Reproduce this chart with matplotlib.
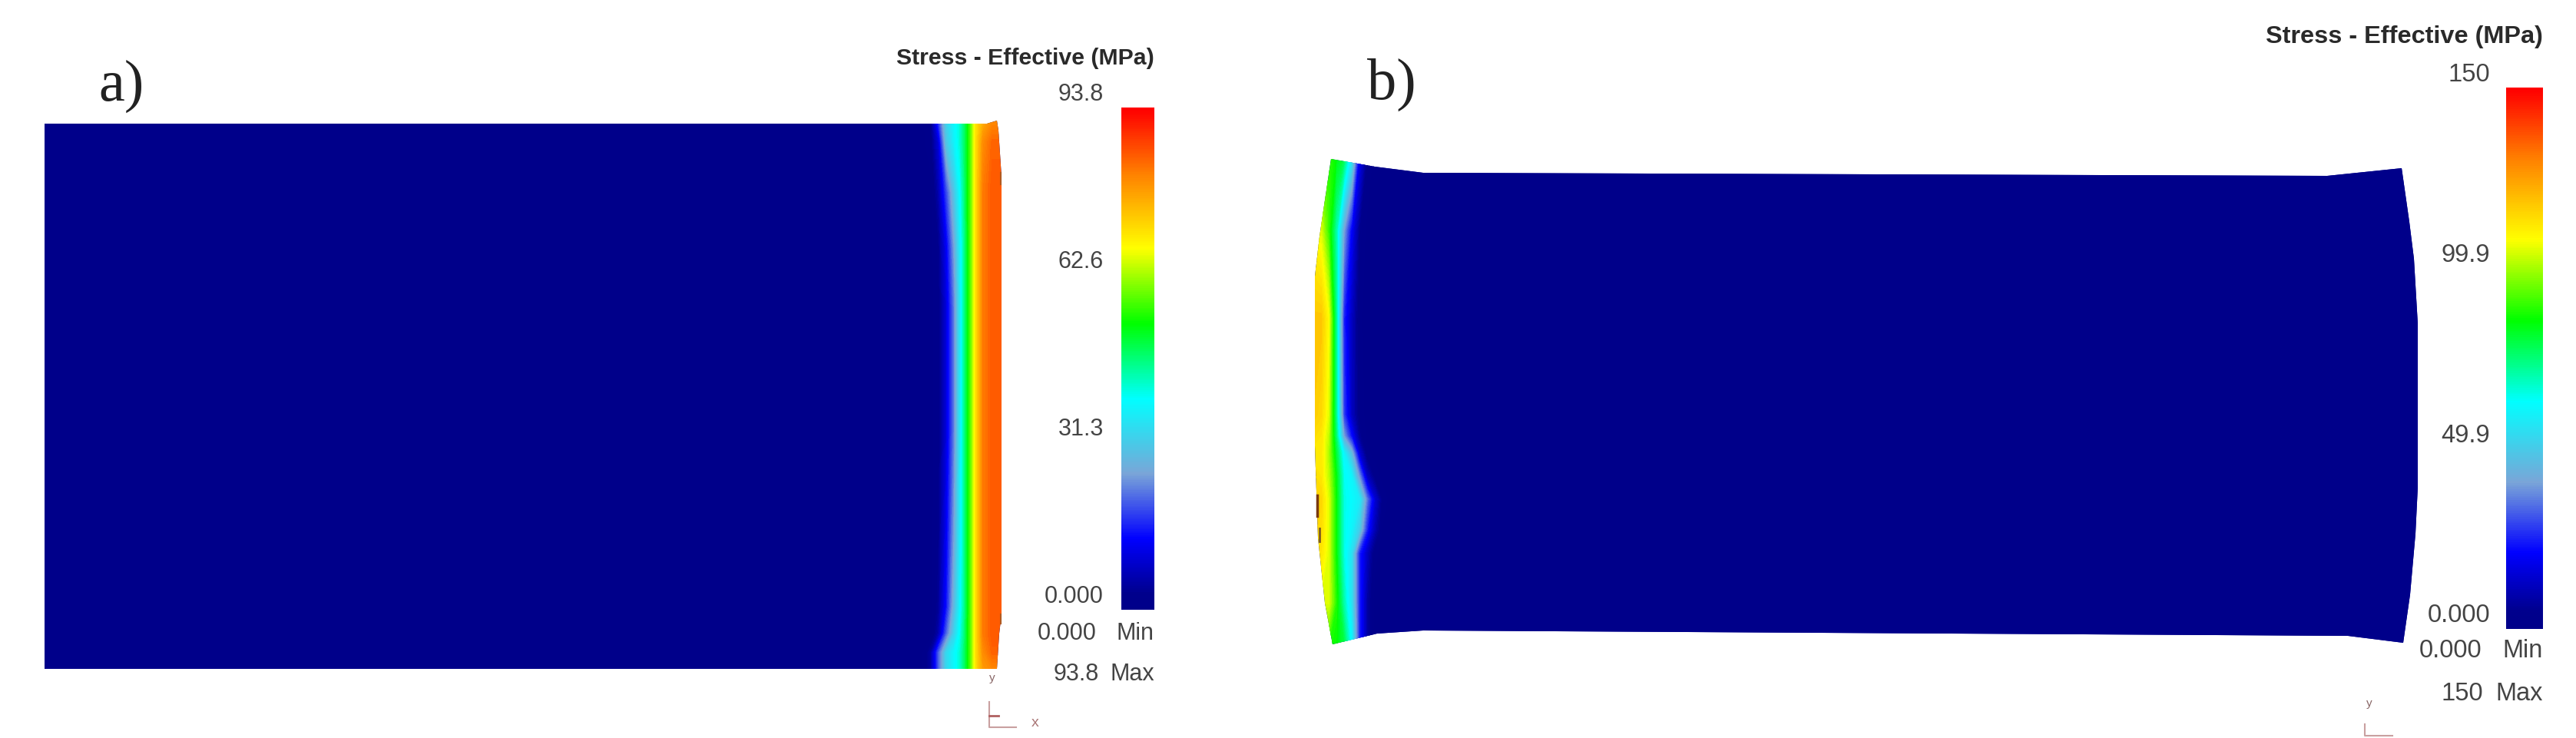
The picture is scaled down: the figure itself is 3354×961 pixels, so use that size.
import numpy as np
import matplotlib
matplotlib.use('Agg')
from matplotlib import pyplot as plt
from matplotlib.cm import ScalarMappable
from matplotlib.colors import LinearSegmentedColormap, Normalize
from matplotlib.patches import Polygon

plt.rcParams['font.family'] = ['Liberation Sans', 'DejaVu Sans']

# Effective stress (MPa) across plate a, one row per height
a_x = [58, 1200, 1212, 1222, 1232, 1242, 1250, 1256, 1262, 1270, 1280, 1292, 1306]
a_y = [155, 185, 250, 320, 400, 560, 700, 790, 825, 850, 875]
a_stress = [
    [0, 0, 3, 18, 32, 38, 42, 48, 56, 70, 76, 80, 80],
    [0, 0, 2, 10, 30, 37, 42, 48, 56, 70, 80, 84, 84],
    [0, 0, 0, 6, 18, 30, 39, 47, 56, 70, 82, 85, 85],
    [0, 0, 0, 3, 12, 25, 37, 46, 56, 70, 82, 85, 85],
    [0, 0, 0, 2, 10, 22, 36, 46, 56, 70, 82, 85, 85],
    [0, 0, 0, 2, 10, 22, 36, 46, 56, 70, 82, 85, 85],
    [0, 0, 0, 3, 12, 25, 37, 46, 56, 70, 82, 85, 85],
    [0, 0, 0, 4, 14, 28, 38, 46, 56, 70, 82, 85, 85],
    [0, 0, 0, 6, 20, 32, 40, 47, 56, 70, 82, 85, 85],
    [0, 0, 5, 20, 33, 38, 42, 48, 56, 70, 80, 84, 84],
    [0, 0, 5, 20, 33, 38, 42, 48, 56, 70, 78, 80, 80],
]
a_edge_x = [58, 1285, 1298, 1300, 1304, 1304, 1301, 1298, 58]
a_edge_y = [161, 161, 157, 170, 230, 800, 825, 871, 871]

# Effective stress (MPa) across plate b, left end only, the rest is zero
b_x = [1705, 1720, 1730, 1740, 1750, 1760, 1770, 1780, 1790, 1800, 1810, 3155]
b_y = [200, 300, 415, 540, 568, 590, 620, 650, 690, 720, 785, 845]
b_stress = [
    [95, 95, 90, 85, 80, 58, 20, 5, 0, 0, 0, 0],
    [110, 105, 90, 70, 40, 20, 5, 0, 0, 0, 0, 0],
    [118, 118, 108, 72, 25, 12, 2, 0, 0, 0, 0, 0],
    [118, 115, 105, 72, 28, 12, 3, 0, 0, 0, 0, 0],
    [115, 112, 102, 75, 40, 22, 6, 0, 0, 0, 0, 0],
    [112, 112, 100, 80, 60, 45, 15, 2, 0, 0, 0, 0],
    [115, 112, 102, 84, 64, 60, 38, 12, 3, 0, 0, 0],
    [118, 115, 105, 85, 65, 62, 58, 35, 15, 3, 0, 0],
    [116, 114, 105, 85, 65, 60, 50, 25, 10, 1, 0, 0],
    [112, 112, 105, 85, 65, 55, 25, 12, 2, 0, 0, 0],
    [105, 105, 105, 88, 70, 55, 25, 8, 0, 0, 0, 0],
    [90, 90, 88, 85, 80, 62, 25, 8, 0, 0, 0, 0],
]
b_edge_x = [1733, 1790, 1853, 3030, 3127, 3137, 3143, 3148, 3148, 3145, 3138, 3129,
            3057, 1853, 1793, 1735, 1725, 1716, 1712, 1712, 1712, 1718]
b_edge_y = [207, 217, 225, 229, 219, 289, 337, 422, 634, 695, 774, 837,
            828, 821, 825, 839, 785, 700, 580, 468, 360, 308]

a_ticks = [93.8, 62.6, 31.3, 0.0]
a_tick_labels = ['93.8', '62.6', '31.3', '0.000']
b_ticks = [150, 99.9, 49.9, 0.0]
b_tick_labels = ['150', '99.9', '49.9', '0.000']

# FEM legend colours, navy at the bottom and red at the top
stops = [0.0, 0.03, 0.14, 0.27, 0.42, 0.57, 0.72, 0.87, 0.98, 1.0]
colours = ['#00008a', '#00008c', '#0000ff', '#7aa5d8', '#00ffff', '#00ff00',
           '#ffff00', '#ff8000', '#ff1000', '#ff0000']
stress_cmap = LinearSegmentedColormap.from_list('stress', list(zip(stops, colours)))

W, H = 3355, 961
fig = plt.figure(figsize=(W / 100, H / 100), dpi=100)
ax = fig.add_axes([0, 0, 1, 1])
ax.set_xlim(0, W)
ax.set_ylim(H, 0)
ax.axis('off')


def draw_plate(xs, ys, stress, edge_x, edge_y, vmax):
    edge = Polygon(np.column_stack([edge_x, edge_y]), closed=True, fc='#00008a', ec='none')
    ax.add_patch(edge)
    field = ax.contourf(xs, ys, stress, levels=np.linspace(0, vmax, 120), cmap=stress_cmap,
                        vmin=0, vmax=vmax, extend='both', antialiased=False)
    field.set_clip_path(edge)


def draw_legend(bar_left, bar_top, bar_right, bar_bottom, ticks, labels, vmax, tick_right,
                title_size, text_size, title_y, min_right, min_y, max_label, max_right, max_y):
    cax = fig.add_axes([bar_left / W, 1 - bar_bottom / H, (bar_right - bar_left) / W,
                        (bar_bottom - bar_top) / H])
    cbar = fig.colorbar(ScalarMappable(Normalize(0, vmax), stress_cmap), cax=cax, ticks=[])
    cbar.outline.set_visible(False)
    ax.text(bar_right, title_y, 'Stress - Effective (MPa)', ha='right', va='center',
            fontsize=title_size, fontweight='bold', color='#2a2a2a')
    for value, label in zip(ticks, labels):
        y = bar_bottom - value / vmax * (bar_bottom - bar_top) - 17
        ax.text(tick_right, y, label, ha='right', va='center', fontsize=text_size, color='#444444')
    ax.text(min_right, min_y, '0.000', ha='right', va='center', fontsize=text_size, color='#444444')
    ax.text(bar_right, min_y, 'Min', ha='right', va='center', fontsize=text_size, color='#444444')
    ax.text(max_right, max_y, max_label, ha='right', va='center', fontsize=text_size, color='#444444')
    ax.text(bar_right, max_y, 'Max', ha='right', va='center', fontsize=text_size, color='#444444')


draw_plate(a_x, a_y, a_stress, a_edge_x, a_edge_y, 93.8)
draw_plate(b_x, b_y, b_stress, b_edge_x, b_edge_y, 150)

draw_legend(1460, 140, 1503, 794, a_ticks, a_tick_labels, 93.8, 1437,
            21.8, 22, 76, 1428, 825, '93.8', 1431, 878)
draw_legend(3263, 114, 3311, 819, b_ticks, b_tick_labels, 150, 3242,
            23.4, 23.5, 48, 3231, 848, '150', 3233, 904)

# panel letters
ax.text(128, 112, 'a)', family='Liberation Serif', fontsize=55, ha='left', va='center', color='#222222')
ax.text(1780, 110, 'b)', family='Liberation Serif', fontsize=55, ha='left', va='center', color='#222222')

# dark specks on the deformed edges
ax.plot([1303, 1303], [225, 240], color='#b05a20', lw=1.5)
ax.plot([1303, 1303], [800, 812], color='#b05a20', lw=1.5)
ax.plot([1715, 1715], [645, 672], color='#7a3a10', lw=2.5)
ax.plot([1718, 1718], [688, 705], color='#7a5a20', lw=2)

# little coordinate triads under each plate
ax.plot([1288, 1288, 1323], [914, 947, 947], color='#c9a0a0', lw=1.5)
ax.plot([1288, 1300], [932, 932], color='#b06060', lw=2)
ax.text(1292, 883, 'y', fontsize=11, color='#886666', ha='center', va='center')
ax.text(1348, 941, 'x', fontsize=14, color='#aa7777', ha='center', va='center')
ax.plot([3079, 3079, 3115], [943, 958, 958], color='#c9a0a0', lw=1.5)
ax.text(3085, 916, 'y', fontsize=11, color='#886666', ha='center', va='center')

fig.savefig('out.png', dpi=100, facecolor='white')
